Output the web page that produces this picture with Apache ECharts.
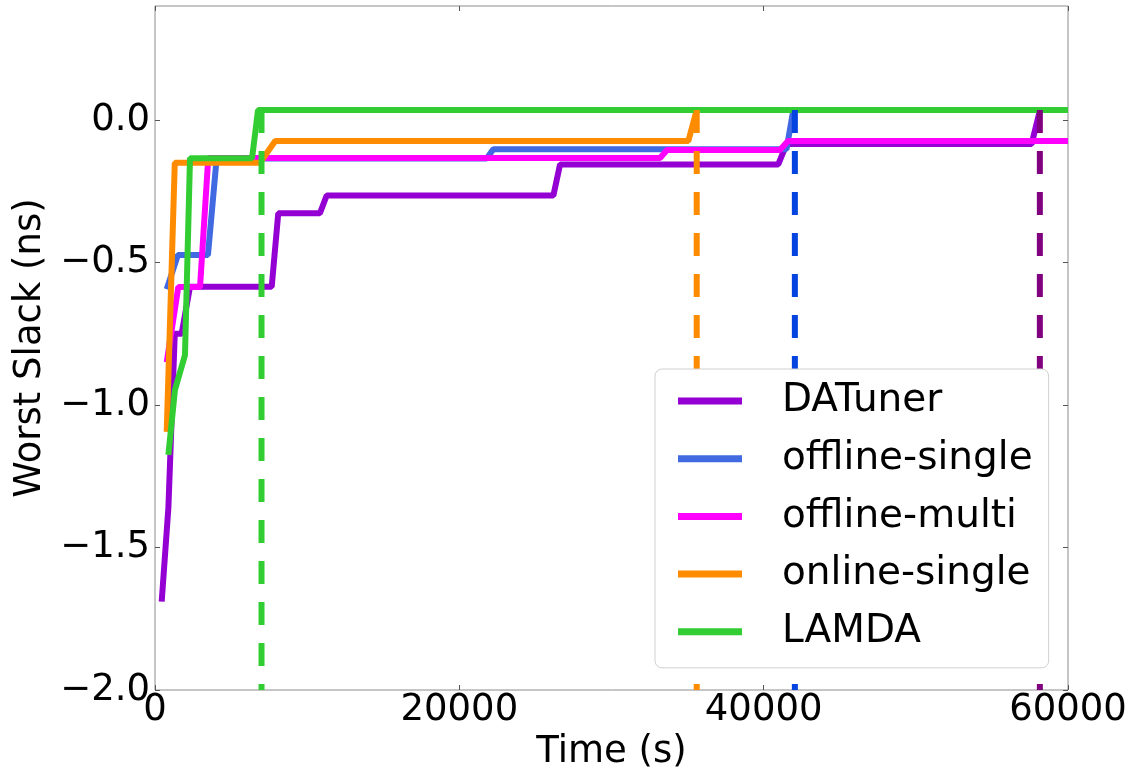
<!DOCTYPE html>
<html>
<head>
<meta charset="utf-8">
<title>Worst Slack vs Time</title>
<script src="https://cdn.jsdelivr.net/npm/echarts@6/dist/echarts.min.js"></script>
<style>
	html, body {margin: 0; padding: 0; background: #fff;}
	#main {width: 1134px; height: 768px;}
</style>
</head>
<body>
<div id="main"></div>
<script>
// data: [time (s), worst slack (ns)]
var datuner = [[440, -1.69], [880, -1.36], [1300, -0.75], [1750, -0.75], [2300, -0.585], [7670, -0.585],
	[8100, -0.327], [10840, -0.327], [11280, -0.265], [26180, -0.265], [26620, -0.156], [40960, -0.156],
	[41510, -0.084], [57610, -0.084], [58160, 0.035]];
var offlineSingle = [[770, -0.594], [1500, -0.474], [3480, -0.474], [4050, -0.135], [21800, -0.135],
	[22230, -0.103], [41500, -0.103], [41950, 0.035]];
var offlineMulti = [[770, -0.85], [1530, -0.586], [2960, -0.586], [3500, -0.133], [33190, -0.133],
	[33650, -0.105], [41070, -0.105], [41600, -0.074], [60000, -0.074]];
var onlineSingle = [[770, -1.094], [1300, -0.15], [6900, -0.15], [7900, -0.074], [35050, -0.074], [35600, 0.035]];
var lamda = [[880, -1.175], [1310, -0.947], [1970, -0.825], [2300, -0.134], [6380, -0.134], [6770, 0.035], [60000, 0.035]];

var seriesNames = ['DATuner', 'offline-single', 'offline-multi', 'online-single', 'LAMDA'];
// time each method reaches its best slack (dashed markers)
var bestNames = ['LAMDA', 'online-single', 'offline-single', 'DATuner'];
var bestTimes = [7000, 35600, 42050, 58150];
var bestSlack = 0.035;
var xTicks = [0, 20000, 40000, 60000];
var yTicks = [-2, -1.5, -1, -0.5, 0];

var lineColors = ['#9400D3', '#4169E1', '#FF00FF', '#FF8C00', '#32CD32'];
var dashColors = ['#32CD32', '#FF8C00', '#0343DF', '#800080'];

var myChart = echarts.init(document.getElementById('main'), null, {renderer: 'canvas'});

var font = 'DejaVu Sans';
var frame = '#8c8c8c';
var legendIcon = 'path://M0,0L64,0L64,7L0,7Z';

var series = [];
[datuner, offlineSingle, offlineMulti, onlineSingle, lamda].forEach(function(d, i) {
	series.push({
		name: seriesNames[i],
		type: 'line',
		data: d,
		symbol: 'none',
		color: lineColors[i],
		itemStyle: {color: lineColors[i], borderWidth: 0},
		lineStyle: {width: 6, color: lineColors[i]},
		z: 2
	});
});
bestTimes.forEach(function(t, i) {
	series.push({
		name: bestNames[i] + ' best',
		type: 'line',
		data: [[t, bestSlack], [t, -2]], // drawn top down, like the dash phase in the picture
		symbol: 'none',
		silent: true,
		lineStyle: {width: 6, color: dashColors[i], type: [23, 18]},
		z: 3
	});
});

// inward ticks on all four sides, matplotlib style
function tickStyle(values) {
	return {show: true, inside: true, length: 5, lineStyle: {color: '#555'}, customValues: values};
}

var option = {
	backgroundColor: '#fff',
	animation: false,
	textStyle: {fontFamily: font},
	grid: {
		left: 155, right: 66, top: 6, bottom: 78,
		show: true, borderColor: frame, borderWidth: 1,
		containLabel: false, outerBoundsMode: 'none'
	},
	legend: {
		data: seriesNames.map(function(n) { return {name: n, icon: legendIcon}; }),
		z: 20,
		orient: 'vertical',
		left: 655,
		top: 369,
		icon: legendIcon,
		itemWidth: 64,
		itemHeight: 7,
		itemGap: 17.7,
		itemStyle: {borderWidth: 0},
		padding: [12, 16, 16, 23],
		backgroundColor: '#fff',
		borderColor: '#d0d0d0',
		borderWidth: 1,
		borderRadius: 7,
		textStyle: {fontFamily: font, fontSize: 39, color: '#000', lineHeight: 40, padding: [0, 0, 0, 35]}
	},
	xAxis: [
		{
			type: 'value',
			min: 0, max: 60000, interval: 20000,
			name: 'Time (s)', nameLocation: 'middle', nameGap: 39,
			nameTextStyle: {fontFamily: font, fontSize: 37, color: '#000'},
			axisLine: {show: false, onZero: false},
			axisTick: tickStyle(xTicks),
			axisLabel: {fontFamily: font, fontSize: 37, color: '#000', margin: 2, customValues: xTicks,
				formatter: function(v) { return String(v); }},
			splitLine: {show: false}
		},
		{
			type: 'value', position: 'top',
			min: 0, max: 60000, interval: 20000,
			axisLine: {show: false, onZero: false},
			axisTick: tickStyle(xTicks),
			axisLabel: {show: false},
			splitLine: {show: false}
		}
	],
	yAxis: [
		{
			type: 'value',
			min: -2, max: 0.4, interval: 0.5,
			name: 'Worst Slack (ns)', nameLocation: 'middle', nameGap: 104,
			nameTextStyle: {fontFamily: font, fontSize: 37, color: '#000'},
			axisLine: {show: false, onZero: false},
			axisTick: tickStyle(yTicks),
			axisLabel: {fontFamily: font, fontSize: 37, color: '#000', margin: 5, customValues: yTicks,
				formatter: function(v) {
					var s = Math.abs(v) < 1e-9 ? '0.0' : v.toFixed(1);
					return s.replace('-', '\u2212');
				}},
			splitLine: {show: false}
		},
		{
			type: 'value', position: 'right',
			min: -2, max: 0.4, interval: 0.5,
			axisLine: {show: false, onZero: false},
			axisTick: tickStyle(yTicks),
			axisLabel: {show: false},
			splitLine: {show: false}
		}
	],
	series: series
};

myChart.setOption(option);
</script>
</body>
</html>
